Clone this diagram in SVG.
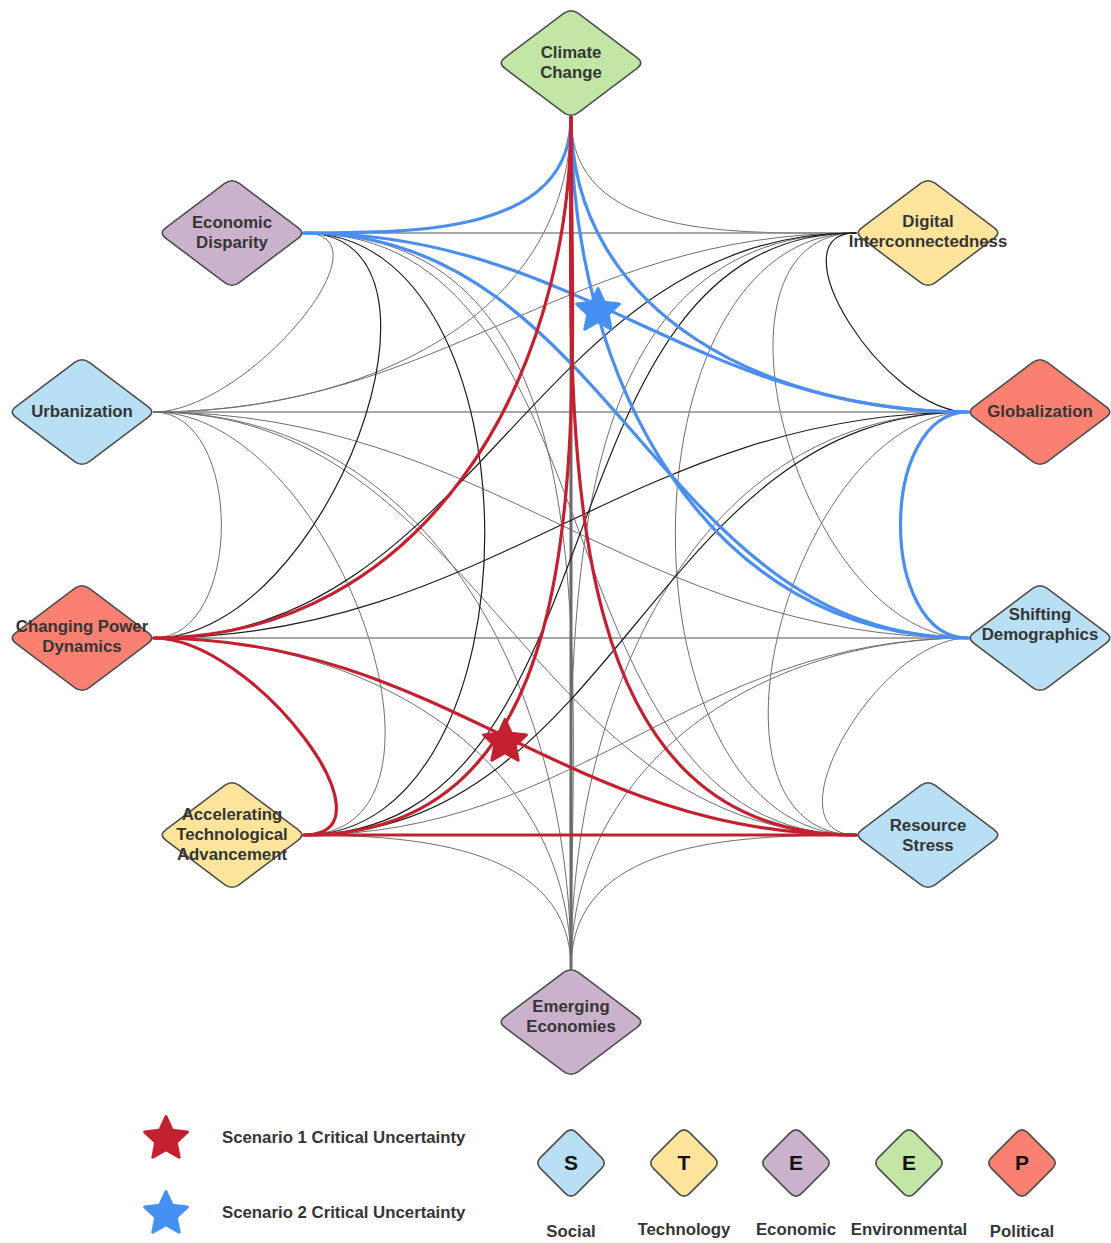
<svg xmlns="http://www.w3.org/2000/svg" xmlns:xlink="http://www.w3.org/1999/xlink" width="1111" height="1243" viewBox="0 0 1111 1243">
<style>
.c{fill:none;stroke-linecap:round}
.g{stroke:#6e6e6e;stroke-width:1}
.h{stroke:#8a8a8a;stroke-width:1.6}
.v{stroke:#6a6a6a;stroke-width:3}
.k{stroke:#1e1e1e;stroke-width:1.2}
.b{stroke:#4a8ef0;stroke-width:3.2}
.r{stroke:#c3212f;stroke-width:3.2}
.nd{stroke:#4d4d4d;stroke-width:1.6}
.soc{fill:#b9dff4}.tec{fill:#fee59b}.eco{fill:#cbb2cc}.env{fill:#c2e6a6}.pol{fill:#fa8072}
.t{font-family:"Liberation Sans",Arial,sans-serif;font-weight:bold;font-size:16.8px;fill:#353535;text-anchor:middle}
.tl{font-family:"Liberation Sans",Arial,sans-serif;font-weight:bold;font-size:16.8px;fill:#353535}
.L{font-family:"Liberation Sans",Arial,sans-serif;font-weight:bold;font-size:21px;fill:#111;text-anchor:middle}
.sr{fill:#c3212f;stroke:#c3212f;stroke-width:3;stroke-linejoin:round}
.sb{fill:#4590f2;stroke:#4590f2;stroke-width:3;stroke-linejoin:round}
</style>
<defs>
<path id="dia" d="M -66,-5.4 L -7.3,-49.6 Q 0,-55 7.3,-49.6 L 66,-5.4 Q 73.5,0 66,5.4 L 7.3,49.6 Q 0,55 -7.3,49.6 L -66,5.4 Q -73.5,0 -66,-5.4 Z"/>
<path id="sdia" d="M -30.34,-5.66 L -5.66,-30.34 Q 0,-36 5.66,-30.34 L 30.34,-5.66 Q 36,0 30.34,5.66 L 5.66,30.34 Q 0,36 -5.66,30.34 L -30.34,5.66 Q -36,0 -30.34,-5.66 Z"/>
<path id="star" d="M0,-22.5 L6.3,-8.7 L21.4,-7 L10.2,3.3 L13.2,18.2 L0,10.7 L-13.2,18.2 L-10.2,3.3 L-21.4,-7 L-6.3,-8.7 Z"/>
</defs>
<rect width="1111" height="1243" fill="#ffffff"/>
<g id="connectors">
<path class="c g" d="M571,117 C571,240 733,233 856,233"/>
<path class="c g" d="M571,117 C571,321 358,412 154,412"/>
<path class="c h" d="M304,233 L856,233"/>
<path class="c g" d="M304,233 C397,233 247,412 154,412"/>
<path class="c g" d="M304,233 C631,233 529,835 856,835"/>
<path class="c g" d="M304,233 C617,233 571,655 571,968"/>
<path class="c g" d="M856,233 C566,233 444,412 154,412"/>
<path class="c g" d="M856,233 C688,233 800,638 968,638"/>
<path class="c g" d="M856,233 C615,233 615,835 856,835"/>
<path class="c g" d="M856,233 C541,233 571,653 571,968"/>
<path class="c h" d="M154,412 L968,412"/>
<path class="c g" d="M154,412 C244,412 244,638 154,638"/>
<path class="c g" d="M154,412 C492,412 630,638 968,638"/>
<path class="c g" d="M154,412 C334,412 484,835 304,835"/>
<path class="c g" d="M154,412 C482,412 528,835 856,835"/>
<path class="c g" d="M154,412 C432,412 571,690 571,968"/>
<path class="c g" d="M968,412 C793,412 681,835 856,835"/>
<path class="c g" d="M968,412 C695,412 571,695 571,968"/>
<path class="c h" d="M154,638 L968,638"/>
<path class="c g" d="M154,638 C367,638 571,755 571,968"/>
<path class="c g" d="M968,638 C691,638 581,835 304,835"/>
<path class="c g" d="M968,638 C877,638 765,835 856,835"/>
<path class="c g" d="M968,638 C762,638 571,762 571,968"/>
<path class="c g" d="M304,835 C423,835 571,849 571,968"/>
<path class="c g" d="M856,835 C730,835 571,842 571,968"/>
<path class="c v" d="M571,117 L571,968"/>
<path class="c k" d="M304,233 C477,233 327,638 154,638"/>
<path class="c k" d="M304,233 C545,233 545,835 304,835"/>
<path class="c k" d="M856,233 C772,233 884,412 968,412"/>
<path class="c k" d="M856,233 C532,233 478,638 154,638"/>
<path class="c k" d="M856,233 C529,233 631,835 304,835"/>
<path class="c k" d="M968,412 C630,412 492,638 154,638"/>
<path class="c k" d="M968,412 C653,412 619,835 304,835"/>
<path class="c b" d="M571,117 C571,233 420,233 304,233"/>
<path class="c b" d="M571,117 C571,315 770,412 968,412"/>
<path class="c b" d="M571,117 C571,379 706,638 968,638"/>
<path class="c b" d="M304,233 C579,233 693,412 968,412"/>
<path class="c b" d="M304,233 C615,233 657,638 968,638"/>
<path class="c b" d="M968,412 C878,412 878,638 968,638"/>
<path class="c r" d="M571,117 C571,384 421,638 154,638"/>
<path class="c r" d="M571,117 C571,423 610,835 304,835"/>
<path class="c r" d="M571,117 C571,426 547,835 856,835"/>
<path class="c r" d="M154,638 C253,638 403,835 304,835"/>
<path class="c r" d="M154,638 C446,638 564,835 856,835"/>
<path class="c r" d="M304,835 L856,835"/>
</g>
<g id="markers">
<use xlink:href="#star" href="#star" class="sr" transform="translate(505,742)"/>
<use xlink:href="#star" href="#star" class="sb" transform="translate(598,311)"/>
</g>
<g id="node-climate-change">
<use xlink:href="#dia" href="#dia" class="nd env" x="571" y="63"/>
<text class="t" x="571" y="58">Climate</text>
<text class="t" x="571" y="78">Change</text>
</g>
<g id="node-economic-disparity">
<use xlink:href="#dia" href="#dia" class="nd eco" x="232" y="233"/>
<text class="t" x="232" y="228">Economic</text>
<text class="t" x="232" y="248">Disparity</text>
</g>
<g id="node-digital-interconnectedness">
<use xlink:href="#dia" href="#dia" class="nd tec" x="928" y="233"/>
<text class="t" x="928" y="227">Digital</text>
<text class="t" x="928" y="247">Interconnectedness</text>
</g>
<g id="node-urbanization">
<use xlink:href="#dia" href="#dia" class="nd soc" x="82" y="412"/>
<text class="t" x="82" y="417">Urbanization</text>
</g>
<g id="node-globalization">
<use xlink:href="#dia" href="#dia" class="nd pol" x="1040" y="412"/>
<text class="t" x="1040" y="417">Globalization</text>
</g>
<g id="node-changing-power-dynamics">
<use xlink:href="#dia" href="#dia" class="nd pol" x="82" y="638"/>
<text class="t" x="82" y="632">Changing Power</text>
<text class="t" x="82" y="652">Dynamics</text>
</g>
<g id="node-shifting-demographics">
<use xlink:href="#dia" href="#dia" class="nd soc" x="1040" y="638"/>
<text class="t" x="1040" y="620">Shifting</text>
<text class="t" x="1040" y="640">Demographics</text>
</g>
<g id="node-accelerating-technological-advancement">
<use xlink:href="#dia" href="#dia" class="nd tec" x="232" y="835"/>
<text class="t" x="232" y="820">Accelerating</text>
<text class="t" x="232" y="840">Technological</text>
<text class="t" x="232" y="860">Advancement</text>
</g>
<g id="node-resource-stress">
<use xlink:href="#dia" href="#dia" class="nd soc" x="928" y="835"/>
<text class="t" x="928" y="831">Resource</text>
<text class="t" x="928" y="851">Stress</text>
</g>
<g id="node-emerging-economies">
<use xlink:href="#dia" href="#dia" class="nd eco" x="571" y="1022"/>
<text class="t" x="571" y="1012">Emerging</text>
<text class="t" x="571" y="1032">Economies</text>
</g>
<g id="legend-scenarios">
<use xlink:href="#star" href="#star" class="sr" transform="translate(166,1139)"/>
<text class="tl" x="222" y="1143">Scenario 1 Critical Uncertainty</text>
<use xlink:href="#star" href="#star" class="sb" transform="translate(166,1214)"/>
<text class="tl" x="222" y="1218">Scenario 2 Critical Uncertainty</text>
</g>
<g id="legend-steep">
<g id="legend-social">
<use xlink:href="#sdia" href="#sdia" class="nd soc" x="571" y="1163"/>
<text class="L" x="571" y="1170">S</text>
<text class="t" x="571" y="1237">Social</text>
</g>
<g id="legend-technology">
<use xlink:href="#sdia" href="#sdia" class="nd tec" x="684" y="1163"/>
<text class="L" x="684" y="1170">T</text>
<text class="t" x="684" y="1235">Technology</text>
</g>
<g id="legend-economic">
<use xlink:href="#sdia" href="#sdia" class="nd eco" x="796" y="1163"/>
<text class="L" x="796" y="1170">E</text>
<text class="t" x="796" y="1235">Economic</text>
</g>
<g id="legend-environmental">
<use xlink:href="#sdia" href="#sdia" class="nd env" x="909" y="1163"/>
<text class="L" x="909" y="1170">E</text>
<text class="t" x="909" y="1235">Environmental</text>
</g>
<g id="legend-political">
<use xlink:href="#sdia" href="#sdia" class="nd pol" x="1022" y="1163"/>
<text class="L" x="1022" y="1170">P</text>
<text class="t" x="1022" y="1237">Political</text>
</g>
</g>
</svg>
